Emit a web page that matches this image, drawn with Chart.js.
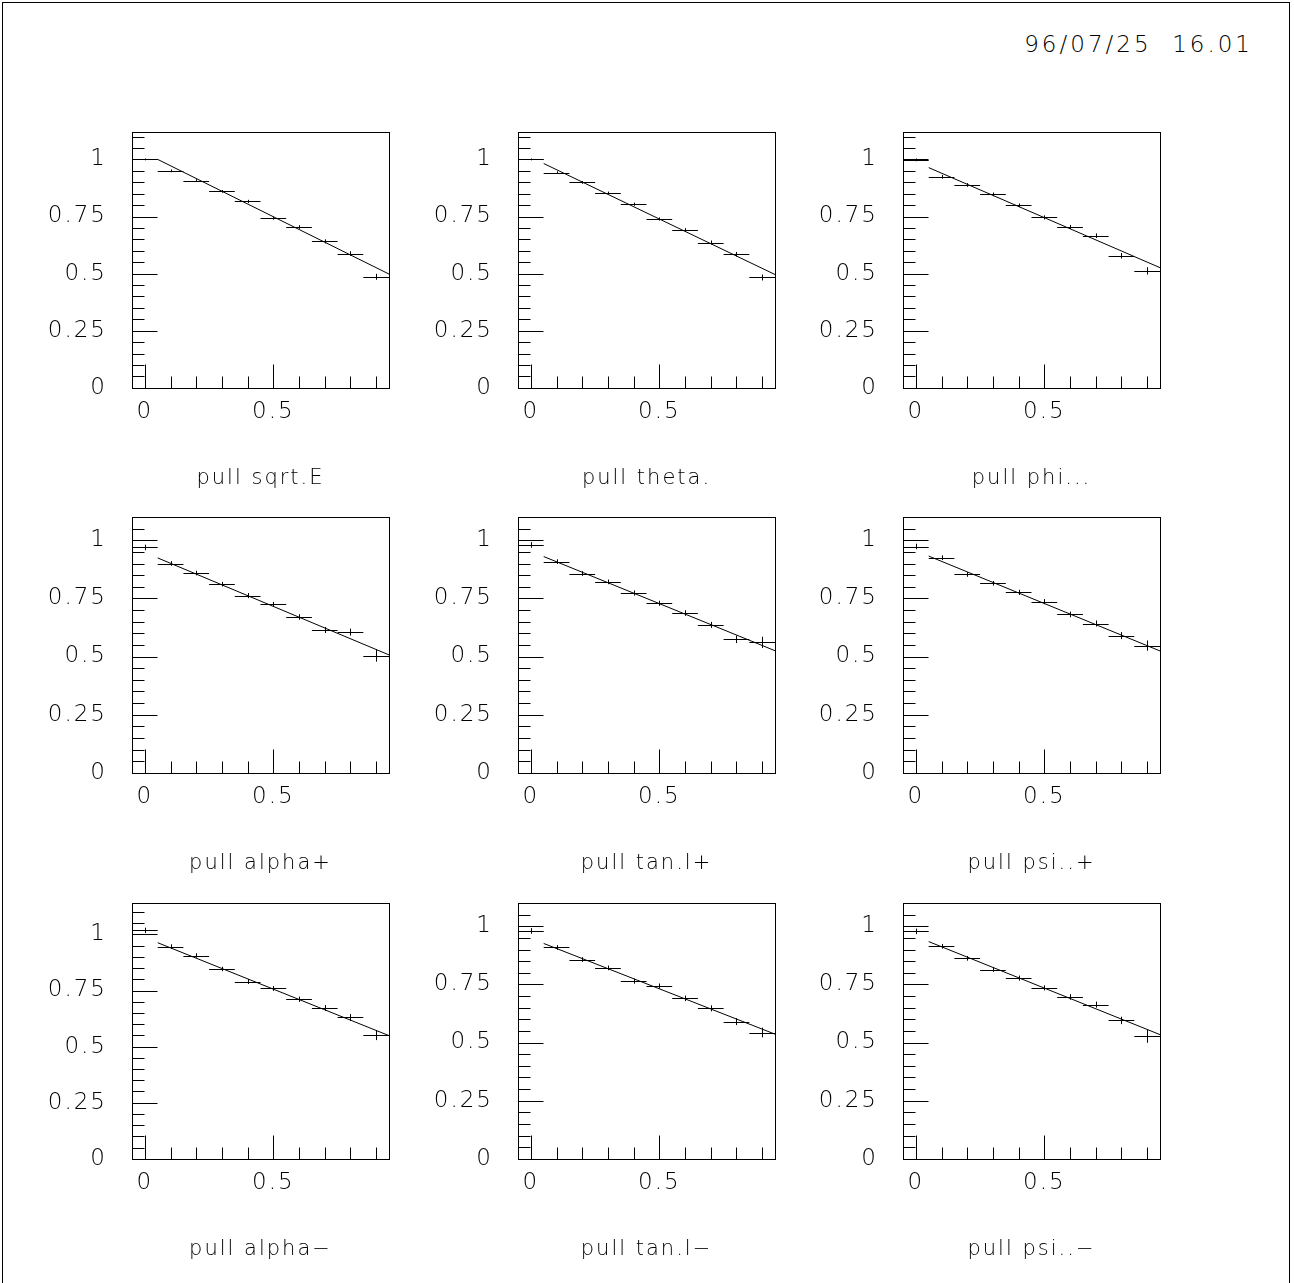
<!DOCTYPE html>
<html>
<head>
<meta charset="utf-8">
<script src="https://cdn.jsdelivr.net/npm/chart.js@4.4.0/dist/chart.umd.min.js"></script>
<style>
  body { margin:0; background:#fff; width:1294px; height:1283px; position:relative; overflow:hidden; }
  #frame { position:absolute; left:2px; top:2px; width:1288px; height:1300px; border:1px solid #000; box-sizing:border-box; }
  #stamp { position:absolute; right:41px; top:31px; font:200 23px "DejaVu Sans"; line-height:27px; letter-spacing:3px; color:#000; white-space:pre; }
  canvas { position:absolute; }
</style>
</head>
<body>
<div id="frame"></div>
<div id="stamp">96/07/25  16.01</div>
<script>
// bins and labels
const binCenters = [0, 0.1, 0.2, 0.3, 0.4, 0.5, 0.6, 0.7, 0.8, 0.9];
const binHalfWidth = 0.05;
const panelTitles = ["pull sqrt.E", "pull theta.", "pull phi...",
                     "pull alpha+", "pull tan.l+", "pull psi..+",
                     "pull alpha\u2212", "pull tan.l\u2212", "pull psi..\u2212"];
const yTickVals = [0, 0.25, 0.5, 0.75, 1];
const xTickVals = [0, 0.5];
const yMaxes = [1.12, 1.12, 1.12, 1.10, 1.10, 1.10, 1.14, 1.10, 1.10];

// bin contents
const valsSqrtE  = [1.000, 0.950, 0.907, 0.860, 0.816, 0.743, 0.704, 0.641, 0.588, 0.486];
const valsTheta  = [1.000, 0.942, 0.899, 0.853, 0.804, 0.739, 0.691, 0.636, 0.585, 0.483];
const valsPhi    = [0.998, 0.924, 0.888, 0.847, 0.799, 0.746, 0.704, 0.666, 0.578, 0.512];
const valsAlphaP = [0.969, 0.900, 0.859, 0.811, 0.762, 0.724, 0.670, 0.614, 0.605, 0.504];
const valsTanLP  = [0.980, 0.908, 0.857, 0.821, 0.773, 0.729, 0.687, 0.636, 0.574, 0.561];
const valsPsiP   = [0.973, 0.925, 0.853, 0.815, 0.776, 0.736, 0.681, 0.642, 0.590, 0.547];
const valsAlphaM = [1.018, 0.946, 0.906, 0.846, 0.790, 0.759, 0.711, 0.672, 0.630, 0.551];
const valsTanLM  = [0.980, 0.909, 0.857, 0.821, 0.764, 0.743, 0.690, 0.647, 0.590, 0.543];
const valsPsiM   = [0.978, 0.914, 0.862, 0.814, 0.777, 0.735, 0.696, 0.663, 0.595, 0.527];

// errors
const errsSqrtE  = [0.004, 0.006, 0.006, 0.006, 0.007, 0.007, 0.008, 0.009, 0.010, 0.013];
const errsTheta  = [0.004, 0.006, 0.006, 0.006, 0.007, 0.007, 0.008, 0.009, 0.010, 0.013];
const errsPhi    = [0.006, 0.008, 0.008, 0.008, 0.008, 0.009, 0.009, 0.010, 0.012, 0.016];
const errsAlphaP = [0.012, 0.010, 0.010, 0.010, 0.011, 0.011, 0.012, 0.013, 0.015, 0.026];
const errsTanLP  = [0.012, 0.010, 0.010, 0.010, 0.011, 0.011, 0.012, 0.013, 0.016, 0.024];
const errsPsiP   = [0.012, 0.010, 0.010, 0.010, 0.011, 0.011, 0.012, 0.013, 0.015, 0.022];
const errsAlphaM = [0.012, 0.010, 0.010, 0.010, 0.011, 0.011, 0.012, 0.013, 0.015, 0.022];
const errsTanLM  = [0.012, 0.010, 0.010, 0.010, 0.011, 0.011, 0.012, 0.013, 0.015, 0.021];
const errsPsiM   = [0.012, 0.010, 0.010, 0.010, 0.011, 0.011, 0.012, 0.013, 0.016, 0.028];

// straight-line fits, value at each end of fit range
const fitRange = [0.05, 0.95];
const fitStart = [1.000, 0.982, 0.964, 0.924, 0.930, 0.932, 0.963, 0.926, 0.934];
const fitEnd   = [0.498, 0.496, 0.526, 0.507, 0.525, 0.524, 0.549, 0.536, 0.534];

const panelVals = [valsSqrtE, valsTheta, valsPhi, valsAlphaP, valsTanLP, valsPsiP, valsAlphaM, valsTanLM, valsPsiM];
const panelErrs = [errsSqrtE, errsTheta, errsPhi, errsAlphaP, errsTanLP, errsPsiP, errsAlphaM, errsTanLM, errsPsiM];

// page layout
const frameLefts = [132, 518, 903];
const frameTops = [132, 517, 903];
const FONT = "'DejaVu Sans', sans-serif";

// PAW-like frame, inner ticks and error crosses
const pawPlugin = {
  id: 'paw',
  beforeDraw(chart) {
    chart.ctx.letterSpacing = '2px';
  },
  afterDatasetsDraw(chart) {
    const ctx = chart.ctx;
    const a = chart.chartArea;
    const xs = chart.scales.x, ys = chart.scales.y;
    const L = Math.round(a.left) + 0.5, B = Math.round(a.bottom) + 0.5;
    ctx.save();
    ctx.strokeStyle = '#000';
    ctx.lineWidth = 1;
    ctx.beginPath();
    // y ticks every 0.05, long on 0.25
    for (let k = 0; k * 0.05 <= ys.max + 1e-9; k++) {
      const y = Math.round(ys.getPixelForValue(k * 0.05)) + 0.5;
      const len = k % 5 === 0 ? 25 : 12;
      ctx.moveTo(L, y); ctx.lineTo(L + len, y);
    }
    // x ticks every 0.1, long on 0 and 0.5
    for (let k = 0; k < 10; k++) {
      const x = Math.round(xs.getPixelForValue(k * 0.1)) + 0.5;
      const len = k % 5 === 0 ? 24 : 12;
      ctx.moveTo(x, B); ctx.lineTo(x, B - len);
    }
    ctx.stroke();
    // error crosses
    const meta = chart.getDatasetMeta(0);
    const ds = chart.data.datasets[0];
    ctx.beginPath();
    meta.data.forEach((pt, k) => {
      const v = ds.data[k];
      const x0 = xs.getPixelForValue(v.x - binHalfWidth);
      const x1 = xs.getPixelForValue(v.x + binHalfWidth);
      const y0 = ys.getPixelForValue(v.y - ds.errs[k]);
      const y1 = ys.getPixelForValue(v.y + ds.errs[k]);
      const py = Math.round(pt.y) + 0.5, px = Math.round(pt.x) + 0.5;
      ctx.moveTo(x0, py); ctx.lineTo(x1, py);
      ctx.moveTo(px, y0); ctx.lineTo(px, y1);
    });
    ctx.stroke();
    // frame
    ctx.strokeRect(L, Math.round(a.top) + 0.5, Math.round(a.right - a.left), Math.round(a.bottom - a.top));
    ctx.restore();
  }
};

function makePanel(i) {
  const canvas = document.createElement('canvas');
  canvas.width = 379;
  canvas.height = 374;
  canvas.style.left = (frameLefts[i % 3] - 110) + 'px';
  canvas.style.top = (frameTops[Math.floor(i / 3)] - 10) + 'px';
  document.body.appendChild(canvas);

  new Chart(canvas, {
    type: 'scatter',
    data: {
      datasets: [
        {
          data: binCenters.map((x, k) => ({ x: x, y: panelVals[i][k] })),
          errs: panelErrs[i],
          pointRadius: 0,
          showLine: false
        },
        {
          type: 'line',
          data: [{ x: fitRange[0], y: fitStart[i] }, { x: fitRange[1], y: fitEnd[i] }],
          borderColor: '#000',
          borderWidth: 1,
          pointRadius: 0,
          fill: false
        }
      ]
    },
    options: {
      responsive: false,
      animation: false,
      devicePixelRatio: 1,
      events: [],
      layout: { padding: { left: 0, right: 12, top: 10, bottom: 0 } },
      plugins: {
        legend: { display: false },
        tooltip: { enabled: false },
        title: {
          display: true,
          text: panelTitles[i],
          position: 'bottom',
          fullSize: false,
          color: '#000',
          font: { family: FONT, size: 21, weight: 200 },
          padding: { top: 38, bottom: 5 }
        }
      },
      scales: {
        x: {
          type: 'linear',
          min: -0.05,
          max: 0.95,
          grid: { display: false, drawTicks: false },
          border: { display: false },
          afterBuildTicks: s => { s.ticks = xTickVals.map(v => ({ value: v })); },
          afterFit: s => { s.height = 40; s.paddingLeft = 0; s.paddingRight = 0; },
          ticks: {
            padding: 10, color: '#000', maxRotation: 0, autoSkip: false,
            font: { family: FONT, size: 23, weight: 200 },
            callback: v => String(v)
          }
        },
        y: {
          type: 'linear',
          min: 0,
          max: yMaxes[i],
          grid: { display: false, drawTicks: false },
          border: { display: false },
          afterBuildTicks: s => { s.ticks = yTickVals.map(v => ({ value: v })); },
          afterFit: s => { s.width = 110; s.paddingTop = 0; s.paddingBottom = 0; },
          ticks: {
            padding: 25, color: '#000', autoSkip: false,
            font: { family: FONT, size: 23, weight: 200 },
            callback: v => String(v)
          }
        }
      }
    },
    plugins: [pawPlugin]
  });
}

for (let i = 0; i < 9; i++) makePanel(i);
</script>
</body>
</html>
